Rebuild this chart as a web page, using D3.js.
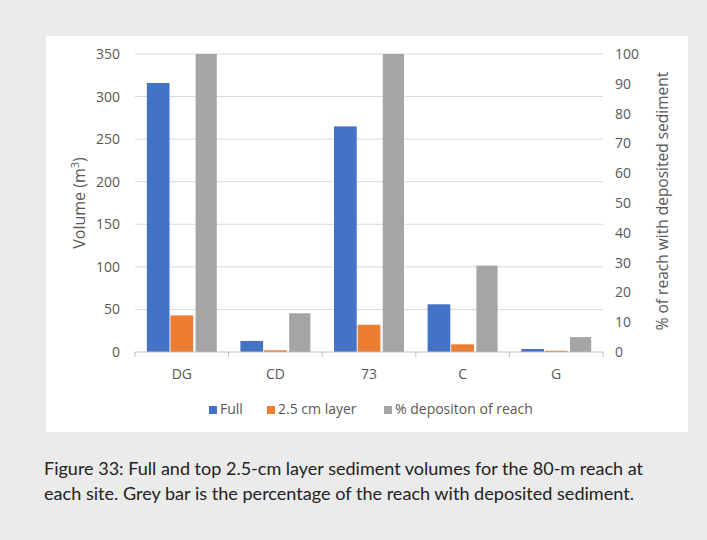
<!DOCTYPE html>
<html>
<head>
<meta charset="utf-8">
<script src="https://cdn.jsdelivr.net/npm/d3@7"></script>
<style>
  body { margin: 0; background: #ebebeb; }
  svg { display: block; }
</style>
</head>
<body>
<script>
// data
const sites = ["DG", "CD", "73", "C", "G"];
const fullVolume = [316, 13, 265, 56, 3.5];
const layerVolume = [43, 2, 32, 9, 1.5];
const pctDeposition = [100, 13, 100, 29, 5];
const leftTicks = [0, 50, 100, 150, 200, 250, 300, 350];
const rightTicks = [0, 10, 20, 30, 40, 50, 60, 70, 80, 90, 100];
const seriesNames = ["Full", "2.5 cm layer", "% depositon of reach"];
const seriesColors = ["#4472c4", "#ed7d31", "#a5a5a5"];
// data

const W = 707, H = 540;
const plot = { left: 135, right: 603, top: 54, bottom: 352 };
const font = "'Open Sans', sans-serif";
const textCol = "#595959";

const svg = d3.select("body").append("svg")
  .attr("width", W)
  .attr("height", H);

svg.append("rect").attr("width", W).attr("height", H).attr("fill", "#ebebeb");
// white chart panel
svg.append("rect")
  .attr("x", 46).attr("y", 36)
  .attr("width", 642).attr("height", 396)
  .attr("fill", "#fff");

const x0 = d3.scaleBand().domain(sites).range([plot.left, plot.right]);
const x1 = d3.scaleBand().domain([0, 1, 2])
  .range([0, x0.bandwidth()])
  .paddingInner(0.04).paddingOuter(0.5);
const yL = d3.scaleLinear().domain([0, 350]).range([plot.bottom, plot.top]);
const yR = d3.scaleLinear().domain([0, 100]).range([plot.bottom, plot.top]);

// gridlines
svg.append("g")
  .selectAll("line")
  .data(leftTicks.filter(d => d > 0))
  .join("line")
  .attr("x1", plot.left).attr("x2", plot.right)
  .attr("y1", d => yL(d)).attr("y2", d => yL(d))
  .attr("stroke", "#d9d9d9").attr("stroke-width", 1);

// bars
const rows = sites.map((s, i) => ({ site: s, vals: [
  { k: 0, v: fullVolume[i], y: yL },
  { k: 1, v: layerVolume[i], y: yL },
  { k: 2, v: pctDeposition[i], y: yR }
]}));

const groups = svg.append("g").selectAll("g")
  .data(rows)
  .join("g")
  .attr("transform", d => `translate(${x0(d.site)},0)`);

groups.selectAll("rect")
  .data(d => d.vals)
  .join("rect")
  .attr("x", d => x1(d.k) + (d.k === 2 ? 1.5 : 0))
  .attr("width", d => x1.bandwidth() - (d.k === 2 ? 1.5 : 0))
  .attr("y", d => d.y(d.v))
  .attr("height", d => plot.bottom - d.y(d.v))
  .attr("fill", d => seriesColors[d.k]);

// bottom axis
const xAxis = svg.append("g")
  .attr("transform", `translate(0,${plot.bottom})`);
xAxis.append("line")
  .attr("x1", plot.left).attr("x2", plot.right)
  .attr("stroke", "#bfbfbf");
xAxis.selectAll(".tk")
  .data(sites.map(s => x0(s)).concat([plot.right]))
  .join("line")
  .attr("class", "tk")
  .attr("x1", d => d).attr("x2", d => d)
  .attr("y1", 0).attr("y2", 5)
  .attr("stroke", "#bfbfbf");
xAxis.selectAll("text")
  .data(sites)
  .join("text")
  .attr("x", d => x0(d) + x0.bandwidth() / 2)
  .attr("y", 27)
  .attr("text-anchor", "middle")
  .attr("font-family", font).attr("font-size", 14)
  .attr("fill", textCol)
  .text(d => d);

// left axis labels
svg.append("g").selectAll("text")
  .data(leftTicks)
  .join("text")
  .attr("x", 120)
  .attr("y", d => yL(d) + 5)
  .attr("text-anchor", "end")
  .attr("font-family", font).attr("font-size", 14)
  .attr("fill", textCol)
  .text(d => d);

// right axis labels
svg.append("g").selectAll("text")
  .data(rightTicks)
  .join("text")
  .attr("x", 615)
  .attr("y", d => yR(d) + 5)
  .attr("text-anchor", "start")
  .attr("font-family", font).attr("font-size", 14)
  .attr("fill", textCol)
  .text(d => d);

// axis titles
const midY = (plot.top + plot.bottom) / 2;
const lt = svg.append("text")
  .attr("transform", `translate(85,${midY}) rotate(-90)`)
  .attr("text-anchor", "middle")
  .attr("font-family", font).attr("font-size", 16)
  .attr("fill", textCol);
lt.append("tspan").text("Volume (m");
lt.append("tspan").attr("dy", -6).attr("font-size", 11).text("3");
lt.append("tspan").attr("dy", 6).text(")");

svg.append("text")
  .attr("transform", `translate(668,${midY - 2}) rotate(-90)`)
  .attr("text-anchor", "middle")
  .attr("font-family", font).attr("font-size", 15.5)
  .attr("fill", textCol)
  .text("% of reach with deposited sediment");

// legend
const legendX = [209, 267, 384];
const legend = svg.append("g").selectAll("g")
  .data(seriesNames)
  .join("g")
  .attr("transform", (d, i) => `translate(${legendX[i]},414)`);
legend.append("rect")
  .attr("x", 0).attr("y", -8)
  .attr("width", 8).attr("height", 8)
  .attr("fill", (d, i) => seriesColors[i]);
legend.append("text")
  .attr("x", 11).attr("y", 0)
  .attr("font-family", font).attr("font-size", 14)
  .attr("fill", textCol)
  .text(d => d);

// caption
const caption = [
  "Figure 33: Full and top 2.5-cm layer sediment volumes for the 80-m reach at",
  "each site. Grey bar is the percentage of the reach with deposited sediment."
];
const captionWidths = [599, 590];
svg.append("g").selectAll("text")
  .data(caption)
  .join("text")
  .attr("x", 44)
  .attr("y", (d, i) => 475 + i * 25)
  .attr("font-family", "Lato, sans-serif").attr("font-size", 18)
  .attr("textLength", (d, i) => captionWidths[i])
  .attr("lengthAdjust", "spacingAndGlyphs")
  .attr("fill", "#222")
  .text(d => d);
</script>
</body>
</html>
